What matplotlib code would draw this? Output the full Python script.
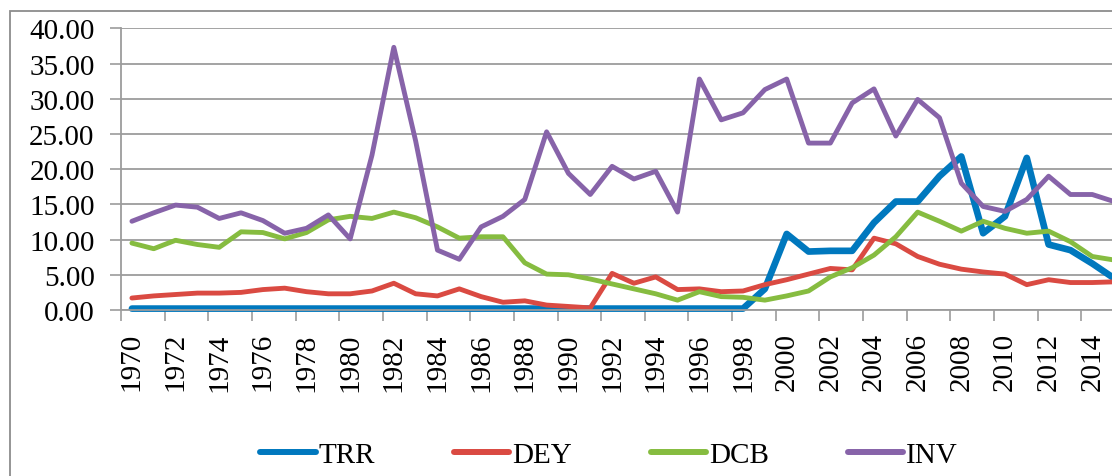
import numpy as np
import matplotlib
matplotlib.use('Agg')
import matplotlib.pyplot as plt
from matplotlib.patches import Rectangle

years = np.arange(1970, 2016)

trr = [0.2] * 29 + [3.0, 10.8, 8.3, 8.4, 8.4, 12.4, 15.4, 15.4, 19.0, 21.8,
                    10.9, 13.3, 21.6, 9.3, 8.5, 6.6, 4.5]
dey = [1.7, 2.0, 2.2, 2.4, 2.4, 2.5, 2.9, 3.1, 2.6, 2.3,
       2.3, 2.7, 3.8, 2.3, 2.0, 3.0, 1.9, 1.1, 1.3, 0.7,
       0.5, 0.3, 5.2, 3.8, 4.7, 2.9, 3.0, 2.6, 2.7, 3.6,
       4.3, 5.1, 5.9, 5.7, 10.2, 9.4, 7.6, 6.5, 5.8, 5.4,
       5.1, 3.6, 4.3, 3.9, 3.9, 4.0]
dcb = [9.5, 8.7, 9.9, 9.3, 8.9, 11.1, 11.0, 10.1, 11.0, 12.8,
       13.3, 13.0, 13.9, 13.1, 11.8, 10.2, 10.4, 10.4, 6.7, 5.1,
       5.0, 4.4, 3.7, 3.0, 2.3, 1.4, 2.6, 1.9, 1.8, 1.4,
       2.0, 2.7, 4.7, 6.0, 7.8, 10.4, 13.9, 12.6, 11.2, 12.6,
       11.6, 10.9, 11.2, 9.7, 7.6, 7.1]
inv = [12.6, 13.8, 14.9, 14.6, 13.0, 13.8, 12.7, 10.9, 11.6, 13.5,
       10.1, 22.0, 37.3, 24.0, 8.5, 7.2, 11.8, 13.3, 15.7, 25.3,
       19.4, 16.4, 20.4, 18.6, 19.7, 13.9, 32.8, 27.0, 28.0, 31.3,
       32.8, 23.7, 23.7, 29.4, 31.4, 24.7, 29.9, 27.3, 18.0, 14.7,
       14.0, 15.7, 19.0, 16.4, 16.4, 15.4]

series = [('TRR', trr, '#0078be', 4.8),
          ('DEY', dey, '#da4a42', 3.5),
          ('DCB', dcb, '#86bc40', 3.5),
          ('INV', inv, '#8763a9', 3.5)]

plt.rcParams['font.family'] = ['Liberation Serif', 'DejaVu Serif']
plt.rcParams['font.size'] = 21

W, H = 1112, 477
fig = plt.figure(figsize=(W / 100, H / 100), dpi=100)

# chart area frame (right and bottom run off the canvas)
fig.patches.append(Rectangle((10 / W, -0.1), 1.2, (H - 12) / H + 0.1,
                             transform=fig.transFigure, fill=False,
                             edgecolor='#8c8c8c', linewidth=1.3))

ax = fig.add_axes([121 / W, 166 / H, 1004 / W, 281.7 / H])
grid_c = '#9c9c9c'

handles = []
for name, vals, color, lw in series:
    ln, = ax.plot(years, vals, color=color, linewidth=lw, label=name,
                  solid_joinstyle='round', solid_capstyle='round', clip_on=False)
    handles.append(ln)

ax.set_xlim(1969.5, 2015.5)
ax.set_ylim(0, 40)
ax.set_yticks(np.arange(0, 41, 5))
ax.set_yticklabels(['%.2f' % v for v in np.arange(0, 41, 5)])
ax.yaxis.grid(True, color=grid_c, linewidth=1.3)
ax.set_axisbelow(True)

ax.set_xticks(years[::2])
ax.set_xticklabels([str(y) for y in years[::2]], rotation=90, va='top')
ax.set_xticks(np.arange(1969.5, 2016, 2), minor=True)
ax.tick_params(axis='x', which='major', length=0, pad=16)
ax.tick_params(axis='x', which='minor', length=8, width=1.2, color=grid_c)
ax.tick_params(axis='y', length=8, width=1.2, color=grid_c, pad=11)

for side in ['top', 'right']:
    ax.spines[side].set_visible(False)
for side in ['left', 'bottom']:
    ax.spines[side].set_color(grid_c)
    ax.spines[side].set_linewidth(1.3)

leg_lines = [plt.Line2D([], [], color=c, linewidth=4.3, solid_capstyle='round')
             for _, _, c, _ in series]
fig.legend(leg_lines, [s[0] for s in series], loc='center',
           bbox_to_anchor=(609 / W, 21 / H), ncol=4, frameon=False,
           handlelength=1.9, handletextpad=0.1, columnspacing=2.7,
           borderaxespad=0, borderpad=0)

fig.savefig('out.png', dpi=100)
